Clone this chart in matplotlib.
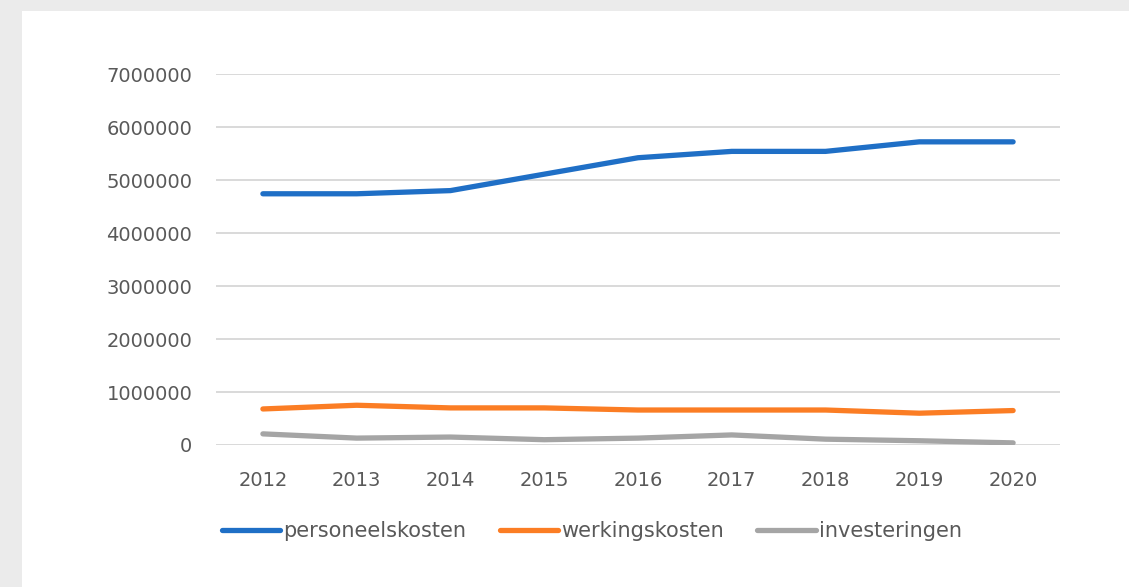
import matplotlib.pyplot as plt
from matplotlib.patches import Rectangle
from matplotlib.ticker import FuncFormatter

years = [2012, 2013, 2014, 2015, 2016, 2017, 2018, 2019, 2020]
personeelskosten = [4740000, 4740000, 4800000, 5110000, 5420000, 5540000, 5540000, 5720000, 5720000]
werkingskosten = [680000, 750000, 700000, 700000, 660000, 660000, 660000, 600000, 650000]
investeringen = [210000, 130000, 150000, 100000, 130000, 190000, 110000, 80000, 40000]

series = [('personeelskosten', personeelskosten, '#1f6fc6'),
          ('werkingskosten', werkingskosten, '#fb7d24'),
          ('investeringen', investeringen, '#a5a5a5')]

fig = plt.figure(figsize=(11.29, 5.87), dpi=100)
fig.patch.set_facecolor('#ebebeb')
# white chart area
fig.patches.append(Rectangle((22 / 1129, 0), 1, 1 - 11 / 587, transform=fig.transFigure,
                             facecolor='white', edgecolor='none', zorder=-10))

ax = fig.add_axes([216 / 1129, 1 - 445 / 587, (1060 - 216) / 1129, (445 - 74) / 587])
ax.set_facecolor('none')

for name, vals, col in series:
    ax.plot(years, vals, color=col, lw=3.8, solid_capstyle='round', solid_joinstyle='round', label=name)

ax.set_xlim(2011.5, 2020.5)
ax.set_ylim(0, 7000000)
ax.set_yticks(range(0, 7000001, 1000000))
ax.yaxis.set_major_formatter(FuncFormatter(lambda v, p: '%d' % v))
ax.set_xticks(years)
ax.grid(axis='y', color='#d9d9d9', lw=1.4)
ax.set_axisbelow(True)
for s in ax.spines.values():
    s.set_visible(False)
ax.tick_params(length=0, labelsize=14, labelcolor='#595959')
ax.tick_params(axis='y', pad=17)
ax.tick_params(axis='x', pad=19)

leg = fig.legend(loc='center', bbox_to_anchor=(592 / 1129, 1 - 531 / 587), ncol=3, frameon=False,
                 fontsize=15, handlelength=2.8, handletextpad=0.15, columnspacing=1.6)
for t in leg.get_texts():
    t.set_color('#595959')

fig.savefig('out.png', dpi=100, facecolor=fig.get_facecolor())
